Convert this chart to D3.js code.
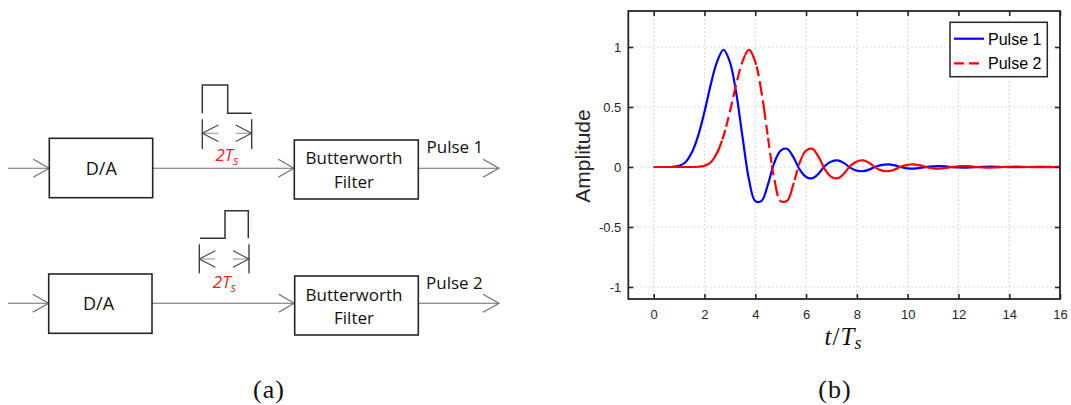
<!DOCTYPE html>
<html>
<head>
<meta charset="utf-8">
<script src="https://cdn.jsdelivr.net/npm/d3@7"></script>
<style>
  html, body { margin: 0; padding: 0; background: #fff; }
  svg { display: block; }
</style>
</head>
<body>
<div id="chart"></div>
<script>
// ---------------- data ----------------
const tValues = [0, 0.25, 0.5, 0.75, 1, 1.25, 1.5, 1.75, 2, 2.25, 2.5, 2.75, 3, 3.25, 3.5, 3.75,
  4, 4.25, 4.5, 4.75, 5, 5.25, 5.5, 5.75, 6, 6.25, 6.5, 6.75, 7, 7.25, 7.5, 7.75,
  8, 8.25, 8.5, 8.75, 9, 9.25, 9.5, 9.75, 10, 10.25, 10.5, 10.75, 11, 11.25, 11.5, 11.75,
  12, 12.25, 12.5, 12.75, 13, 13.25, 13.5, 13.75, 14, 14.25, 14.5, 14.75, 15, 15.25, 15.5, 15.75, 16];

const pulse1 = [0, 0, 0, 0.002, 0.01, 0.04, 0.12, 0.26, 0.46, 0.69, 0.88, 0.977, 0.875, 0.617, 0.247, -0.102,
  -0.284, -0.282, -0.145, 0.036, 0.137, 0.152, 0.082, -0.022, -0.083, -0.094, -0.053, 0.010, 0.046, 0.055, 0.032, -0.007,
  -0.030, -0.035, -0.020, 0.004, 0.018, 0.022, 0.013, -0.002, -0.011, -0.013, -0.008, 0.001, 0.006, 0.008, 0.005, -0.001,
  -0.004, -0.005, -0.003, 0.000, 0.002, 0.003, 0.002, 0.000, -0.001, -0.002, -0.001, 0, 0.001, 0.001, 0.001, 0, 0];

const pulse2 = [0, 0, 0, 0, 0, 0, 0, 0.002, 0.01, 0.04, 0.12, 0.26, 0.46, 0.69, 0.88, 0.977,
  0.875, 0.617, 0.247, -0.102, -0.284, -0.282, -0.145, 0.036, 0.137, 0.152, 0.082, -0.022, -0.083, -0.094, -0.053, 0.010,
  0.046, 0.055, 0.032, -0.007, -0.030, -0.035, -0.020, 0.004, 0.018, 0.022, 0.013, -0.002, -0.011, -0.013, -0.008, 0.001,
  0.006, 0.008, 0.005, -0.001, -0.004, -0.005, -0.003, 0.000, 0.002, 0.003, 0.002, 0.000, -0.001, -0.002, -0.001, 0, 0.001];

const seriesNames = ["Pulse 1", "Pulse 2"];
const xTicks = [0, 2, 4, 6, 8, 10, 12, 14, 16];
const xTickLabels = ["0", "2", "4", "6", "8", "10", "12", "14", "16"];
const yTicks = [-1, -0.5, 0, 0.5, 1];
const yTickLabels = ["-1", "-0.5", "0", "0.5", "1"];

// ---------------- setup ----------------
const W = 1071, H = 405;
const svg = d3.select("#chart").append("svg").attr("width", W).attr("height", H)
  .style("font-family", "'Liberation Sans', Arial, sans-serif");
svg.append("rect").attr("width", W).attr("height", H).attr("fill", "#fff");

// ================= (a) block diagram =================
const diag = svg.append("g").attr("class", "diagram");
const lineCol = "#6b6b6b", boxCol = "#262626", sansDiag = "'Open Sans', 'Noto Sans', sans-serif";

function chevron(g, tipX, tipY, dir, len, half, col, w) {
  g.append("path")
    .attr("d", `M${tipX - dir * len},${tipY - half}L${tipX},${tipY}L${tipX - dir * len},${tipY + half}`)
    .attr("fill", "none").attr("stroke", col).attr("stroke-width", w);
}
function hline(g, x1, x2, y, col, w) {
  g.append("line").attr("x1", x1).attr("x2", x2).attr("y1", y).attr("y2", y)
    .attr("stroke", col).attr("stroke-width", w);
}
function vline(g, x, y1, y2, col, w) {
  g.append("line").attr("x1", x).attr("x2", x).attr("y1", y1).attr("y2", y2)
    .attr("stroke", col).attr("stroke-width", w);
}
function box(g, x1, y1, x2, y2) {
  g.append("rect").attr("x", x1).attr("y", y1).attr("width", x2 - x1).attr("height", y2 - y1)
    .attr("fill", "#fff").attr("stroke", boxCol).attr("stroke-width", 1.6);
}
function label(g, x, y, txt, anchor, size) {
  g.append("text").attr("x", x).attr("y", y).attr("text-anchor", anchor || "middle")
    .style("font-family", sansDiag).style("font-size", (size || 17) + "px").attr("fill", "#111").text(txt);
}
function twoTs(g, x, y) {
  const t = g.append("text").attr("x", x).attr("y", y).attr("fill", "#ff1a1a")
    .style("font-family", sansDiag).style("font-size", "17px").style("font-style", "italic");
  t.append("tspan").text("2T");
  t.append("tspan").attr("dy", 4).style("font-size", "12px").text("s");
}

const rows = [
  { y: 168.3, da: [49.3, 138.3, 152.7, 197.7], daTx: 101.3, daTy: 175, fl: [294.3, 140, 418.3, 199],
    bwY: 164, fiY: 188.3, name: seriesNames[0], nameX: 426.5, nameY: 152.7,
    pulse: "M202.3,113.3V85H227.7V113.3H251.7", dimL: 202.3, dimR: 251.7, dimY1: 119.3, dimY2: 149, dimA: 133.3,
    tsX: 215.5, tsY: 160.7 },
  { y: 303.3, da: [48.7, 274, 152, 333.3], daTx: 98.5, daTy: 310, fl: [294.7, 276, 418.3, 335],
    bwY: 301, fiY: 324.3, name: seriesNames[1], nameX: 426, nameY: 289.3,
    pulse: "M200,238.3H225V210.7H248.3V238.3", dimL: 199.3, dimR: 249, dimY1: 244.3, dimY2: 273.3, dimA: 259,
    tsX: 212.8, tsY: 288.3 }
];

rows.forEach(r => {
  const g = diag.append("g");
  hline(g, 8, r.da[0], r.y, lineCol, 1.1);
  chevron(g, r.da[0], r.y, 1, 16, 9, lineCol, 1.1);
  hline(g, r.da[2], r.fl[0], r.y, lineCol, 1.1);
  chevron(g, r.fl[0] - 0.5, r.y, 1, 15.5, 9, lineCol, 1.1);
  hline(g, r.fl[2], 499, r.y, lineCol, 1.1);
  chevron(g, 499, r.y, 1, 16, 9, lineCol, 1.1);
  box(g, ...r.da);
  box(g, ...r.fl);
  label(g, r.daTx, r.daTy, "D/A", "middle", 18);
  label(g, 354, r.bwY, "Butterworth", "middle", 17);
  label(g, 354, r.fiY, "Filter", "middle", 17);
  label(g, r.nameX, r.nameY, r.name, "start", 17);
  g.append("path").attr("d", r.pulse).attr("fill", "none").attr("stroke", "#333").attr("stroke-width", 1.5);
  vline(g, r.dimL, r.dimY1, r.dimY2, "#333", 1.3);
  vline(g, r.dimR, r.dimY1, r.dimY2, "#333", 1.3);
  hline(g, r.dimL, r.dimL + 16, r.dimA, "#9a9a9a", 1.1);
  hline(g, r.dimR - 16, r.dimR, r.dimA, "#9a9a9a", 1.1);
  chevron(g, r.dimL, r.dimA, -1, 16, 8.3, "#444", 1.1);
  chevron(g, r.dimR, r.dimA, 1, 16, 8.3, "#444", 1.1);
  twoTs(g, r.tsX, r.tsY);
});

// ================= (b) line chart =================
const plot = { left: 628.3, right: 1060, top: 11, bottom: 299 };
const x = d3.scaleLinear().domain([-1, 16]).range([plot.left, plot.right]);
const y = d3.scaleLinear().domain([-1.1, 1.3]).range([plot.bottom, plot.top]);
const axCol = "#262626";

const gp = svg.append("g").attr("class", "plot");

const grid = gp.append("g");
xTicks.forEach(t => {
  grid.append("line").attr("x1", x(t)).attr("x2", x(t)).attr("y1", plot.top).attr("y2", plot.bottom)
    .attr("stroke", "#cfcfcf").attr("stroke-width", 1.2).attr("stroke-dasharray", "1.5,2.6");
});
yTicks.forEach(v => {
  grid.append("line").attr("x1", plot.left).attr("x2", plot.right).attr("y1", y(v)).attr("y2", y(v))
    .attr("stroke", "#cfcfcf").attr("stroke-width", 1.2).attr("stroke-dasharray", "1.5,2.6");
});

const pts1 = tValues.map((t, i) => [t, pulse1[i]]);
const pts2 = tValues.map((t, i) => [t, pulse2[i]]);
const line = d3.line().x(d => x(d[0])).y(d => y(d[1])).curve(d3.curveCatmullRom.alpha(0.5));

gp.append("path").datum(pts1).attr("d", line).attr("fill", "none")
  .attr("stroke", "#0000ff").attr("stroke-width", 2.2).attr("stroke-linejoin", "round");
const redPath = gp.append("path").datum(pts2).attr("d", line).attr("fill", "none")
  .attr("stroke", "#ff0000").attr("stroke-width", 2.2).attr("stroke-linejoin", "round");

// MATLAB-like dashing: the dash pattern restarts at every short plotted segment
function segmentDash(node, step, dash, gap) {
  const total = node.getTotalLength();
  const bounds = [0];
  let next = tValues[0] + step;
  for (let s = 0.4; s < total; s += 0.4) {
    const p = node.getPointAtLength(s);
    if (x.invert(p.x) >= next) { bounds.push(s); next += step; }
  }
  bounds.push(total);
  const arr = [];
  for (let i = 0; i < bounds.length - 1; i++) {
    let L = bounds[i + 1] - bounds[i];
    while (L > 1e-6) {
      if (L <= dash) { arr.push(L, 0); L = 0; }
      else if (L <= dash + gap) { arr.push(dash, L - dash); L = 0; }
      else { arr.push(dash, gap); L -= dash + gap; }
    }
  }
  return arr.map(v => v.toFixed(2)).join(",");
}
redPath.attr("stroke-dasharray", segmentDash(redPath.node(), 0.15, 10, 5));

const xAxisB = d3.axisBottom(x).tickValues(xTicks).tickFormat((d, i) => xTickLabels[i]).tickSizeInner(-5).tickSizeOuter(0).tickPadding(11);
const xAxisT = d3.axisTop(x).tickValues(xTicks).tickFormat("").tickSizeInner(-5).tickSizeOuter(0);
const yAxisL = d3.axisLeft(y).tickValues(yTicks).tickFormat((d, i) => yTickLabels[i]).tickSizeInner(-5).tickSizeOuter(0).tickPadding(7);
const yAxisR = d3.axisRight(y).tickValues(yTicks).tickFormat("").tickSizeInner(-5).tickSizeOuter(0);

function styleAxis(g) {
  g.select(".domain").remove();
  g.selectAll(".tick line").attr("stroke", axCol).attr("stroke-width", 1.6);
  g.selectAll(".tick text").attr("fill", axCol).style("font-family", "'Liberation Sans', Arial, sans-serif").style("font-size", "13px");
}
gp.append("g").attr("transform", `translate(0,${plot.bottom})`).call(xAxisB).call(styleAxis);
gp.append("g").attr("transform", `translate(0,${plot.top})`).call(xAxisT).call(styleAxis);
gp.append("g").attr("transform", `translate(${plot.left},0)`).call(yAxisL).call(styleAxis);
gp.append("g").attr("transform", `translate(${plot.right},0)`).call(yAxisR).call(styleAxis);

gp.append("rect").attr("x", plot.left).attr("y", plot.top)
  .attr("width", plot.right - plot.left).attr("height", plot.bottom - plot.top)
  .attr("fill", "none").attr("stroke", axCol).attr("stroke-width", 1.8);

const lg = gp.append("g");
lg.append("rect").attr("x", 950).attr("y", 22.3).attr("width", 97.3).attr("height", 54.4)
  .attr("fill", "#fff").attr("stroke", axCol).attr("stroke-width", 1.5);
const legendItems = [
  { name: seriesNames[0], color: "#0000ff", dash: null },
  { name: seriesNames[1], color: "#ff0000", dash: "10,5" }
];
legendItems.forEach((d, i) => {
  const yy = 38.7 + i * 24.6;
  lg.append("line").attr("x1", 954).attr("x2", 984).attr("y1", yy).attr("y2", yy)
    .attr("stroke", d.color).attr("stroke-width", 2.2).attr("stroke-dasharray", d.dash);
  lg.append("text").attr("x", 988).attr("y", yy + 5.8).attr("fill", "#000")
    .style("font-size", "16px").text(d.name);
});

gp.append("text").attr("transform", "translate(589.5,156) rotate(-90)").attr("text-anchor", "middle")
  .attr("fill", "#262626").style("font-size", "21px").text("Amplitude");

const xl = gp.append("text").attr("x", 843).attr("y", 345).attr("text-anchor", "middle")
  .style("font-family", "'Liberation Serif', 'DejaVu Serif', serif").style("font-size", "25px").attr("fill", "#111");
xl.append("tspan").style("font-style", "italic").text("t");
xl.append("tspan").attr("dx", 1).text("/");
xl.append("tspan").attr("dx", 1).style("font-style", "italic").text("T");
xl.append("tspan").attr("dy", 4).attr("dx", 0).style("font-style", "italic").style("font-size", "18px").text("s");

svg.append("text").attr("x", 269).attr("y", 398).attr("text-anchor", "middle")
  .style("font-family", "'Liberation Serif', serif").style("font-size", "26px").style("letter-spacing", "1px")
  .attr("fill", "#111").text("(a)");
svg.append("text").attr("x", 835).attr("y", 398).attr("text-anchor", "middle")
  .style("font-family", "'Liberation Serif', serif").style("font-size", "26px").style("letter-spacing", "1px")
  .attr("fill", "#111").text("(b)");
</script>
</body>
</html>
